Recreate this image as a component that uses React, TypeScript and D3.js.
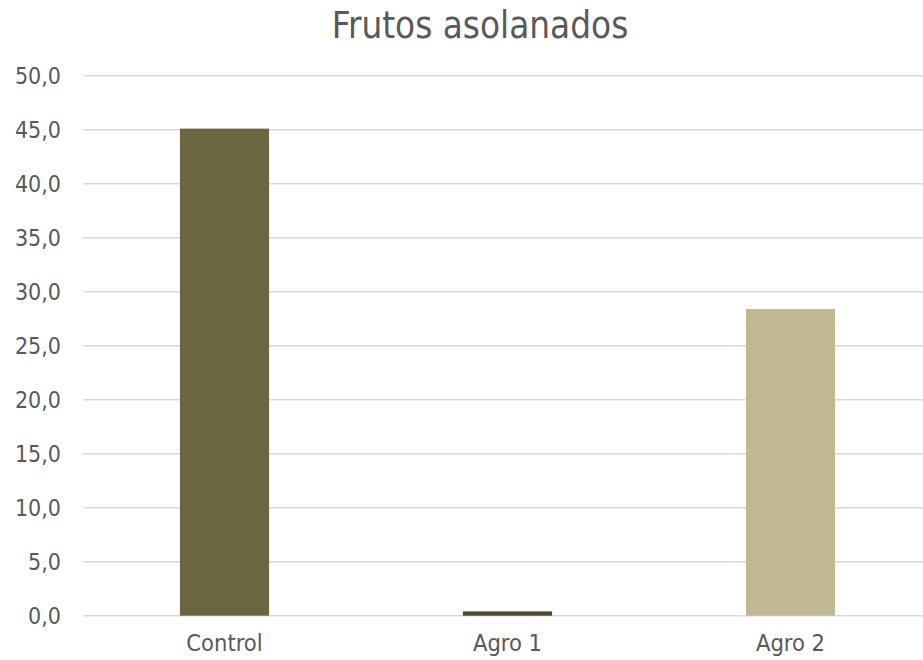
import * as d3 from "d3"
import { useLayoutEffect, useRef } from "react"

const categories = ["Control", "Agro 1", "Agro 2"]
const values = [45.1, 0.4, 28.4]
const barColors = ["#6b6540", "#4e4830", "#c0b893"]
const yTicks = [0, 5, 10, 15, 20, 25, 30, 35, 40, 45, 50]
const title = "Frutos asolanados"

const FONT = "'DejaVu Sans Condensed', 'DejaVu Sans', sans-serif"

export default function App() {
  const ref = useRef<SVGSVGElement>(null)

  useLayoutEffect(() => {
    if (!ref.current) return
    const svg = d3.select(ref.current)
    svg.selectAll("*").remove()

    const width = 923
    const height = 660
    const left = 83
    const right = 932
    const top = 75.7
    const bottom = 615.7

    const x = d3.scaleBand().domain(categories).range([left, right]).padding(0)
    const y = d3.scaleLinear().domain([0, 50]).range([bottom, top])

    svg
      .append("rect")
      .attr("width", width)
      .attr("height", height)
      .attr("fill", "#fff")

    // gridlines
    svg
      .append("g")
      .selectAll("line")
      .data(yTicks)
      .enter()
      .append("line")
      .attr("x1", left)
      .attr("x2", width)
      .attr("y1", (d) => y(d))
      .attr("y2", (d) => y(d))
      .attr("stroke", "#d9d9d9")
      .attr("stroke-width", 1.5)

    const barW = x.bandwidth() * 0.315
    svg
      .append("g")
      .selectAll("rect")
      .data(values)
      .enter()
      .append("rect")
      .attr("x", (_, i) => x(categories[i])! + x.bandwidth() / 2 - barW / 2)
      .attr("y", (d) => y(d))
      .attr("width", barW)
      .attr("height", (d) => bottom - y(d))
      .attr("fill", (_, i) => barColors[i])

    // y labels
    svg
      .append("g")
      .selectAll("text")
      .data(yTicks)
      .enter()
      .append("text")
      .attr("x", 61)
      .attr("y", (d) => y(d))
      .attr("dy", "0.36em")
      .attr("text-anchor", "end")
      .attr("font-family", FONT)
      .attr("font-size", 23)
      .attr("fill", "#595959")
      .text((d) => d.toFixed(1).replace(".", ","))

    // x labels
    svg
      .append("g")
      .selectAll("text")
      .data(categories)
      .enter()
      .append("text")
      .attr("x", (d) => x(d)! + x.bandwidth() / 2)
      .attr("y", 651)
      .attr("text-anchor", "middle")
      .attr("font-family", FONT)
      .attr("font-size", 23.5)
      .attr("fill", "#595959")
      .text((d) => d)

    svg
      .append("text")
      .attr("x", 480)
      .attr("y", 38)
      .attr("text-anchor", "middle")
      .attr("font-family", FONT)
      .attr("font-size", 36.5)
      .attr("fill", "#595959")
      .text(title)
  }, [])

  return (
    <svg
      ref={ref}
      width={923}
      height={660}
      style={{ position: "absolute", left: 0, top: 0, display: "block" }}
    />
  )
}
